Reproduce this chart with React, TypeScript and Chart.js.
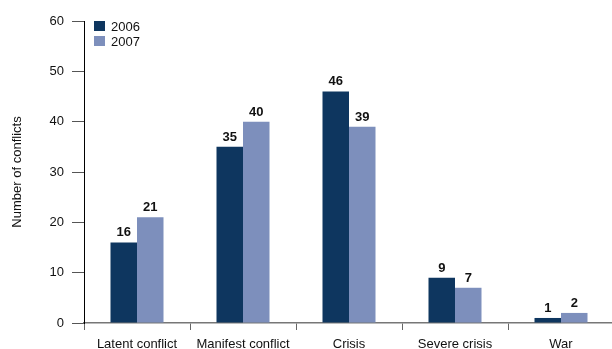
import React, { useEffect, useRef } from "react";
import { Chart, registerables } from "chart.js";

Chart.register(...registerables);

const categories = ["Latent conflict", "Manifest conflict", "Crisis", "Severe crisis", "War"];
const values2006 = [16, 35, 46, 9, 1];
const values2007 = [21, 40, 39, 7, 2];
const seriesLabels = ["2006", "2007"];
const yTicks = [0, 10, 20, 30, 40, 50, 60];

const DARK = "#0e365f";
const LIGHT = "#7d8fbc";
const FONT = "'Liberation Sans', Arial, Helvetica, sans-serif";

const valueLabelPlugin = {
  id: "valueLabels",
  afterDatasetsDraw(chart: any) {
    const ctx = chart.ctx;
    ctx.save();
    ctx.font = `bold 13px ${FONT}`;
    ctx.fillStyle = "#111";
    ctx.textAlign = "center";
    ctx.textBaseline = "alphabetic";
    chart.data.datasets.forEach((ds: any, i: number) => {
      const meta = chart.getDatasetMeta(i);
      meta.data.forEach((el: any, j: number) => {
        ctx.fillText(String(ds.data[j]), el.x, el.y - 6);
      });
    });
    ctx.restore();
  },
};

const insideLegendPlugin = {
  id: "insideLegend",
  afterDraw(chart: any) {
    const ctx = chart.ctx;
    const area = chart.chartArea;
    ctx.save();
    ctx.font = `13px ${FONT}`;
    ctx.textBaseline = "middle";
    ctx.textAlign = "left";
    chart.data.datasets.forEach((ds: any, i: number) => {
      const x = area.left + 10;
      const y = area.top + i * 15;
      ctx.fillStyle = ds.backgroundColor;
      ctx.fillRect(x, y, 11, 10);
      ctx.fillStyle = "#111";
      ctx.fillText(ds.label, x + 17, y + 6);
    });
    ctx.restore();
  },
};

export default function App() {
  const ref = useRef<HTMLCanvasElement | null>(null);
  useEffect(() => {
    document.body.style.margin = "0";
    if (!ref.current) return;
    const chart = new Chart(ref.current, {
      type: "bar",
      data: {
        labels: categories,
        datasets: [
          { label: seriesLabels[0], data: values2006, backgroundColor: DARK, borderWidth: 0 },
          { label: seriesLabels[1], data: values2007, backgroundColor: LIGHT, borderWidth: 0 },
        ],
      },
      options: {
        animation: false,
        responsive: false,
        maintainAspectRatio: false,
        layout: { padding: { top: 21, right: 0, left: 0, bottom: 0 } },
        datasets: { bar: { categoryPercentage: 0.5, barPercentage: 1 } },
        plugins: { legend: { display: false }, tooltip: { enabled: false } },
        scales: {
          x: {
            offset: true,
            grid: { display: true, drawOnChartArea: false, drawTicks: true, tickLength: 7, offset: true, color: "#666" },
            border: { display: true, color: "#777", width: 1.5 },
            ticks: { font: { family: FONT, size: 13 }, color: "#111", padding: 7 },
            afterFit: (s: any) => { s.height = 26; },
          },
          y: {
            min: 0,
            max: 60,
            afterBuildTicks: (s: any) => { s.ticks = yTicks.map((v) => ({ value: v })); },
            grid: { display: true, drawOnChartArea: false, drawTicks: true, tickLength: 12, color: "#555" },
            border: { display: true, color: "#000", width: 1 },
            ticks: { font: { family: FONT, size: 13 }, color: "#111", padding: 8 },
            title: {
              display: true,
              text: "Number of conflicts",
              font: { family: FONT, size: 13 },
              color: "#111",
              padding: { top: 10, bottom: 4 },
            },
            afterFit: (s: any) => { s.width = 84; },
          },
        },
      },
      plugins: [valueLabelPlugin, insideLegendPlugin],
    });
    return () => chart.destroy();
  }, []);
  return (
    <div style={{ position: "absolute", left: 0, top: 0, width: 612, height: 349, overflow: "hidden", background: "#fff" }}>
      <canvas ref={ref} width={614} height={349} style={{ width: 614, height: 349, display: "block" }} />
    </div>
  );
}
